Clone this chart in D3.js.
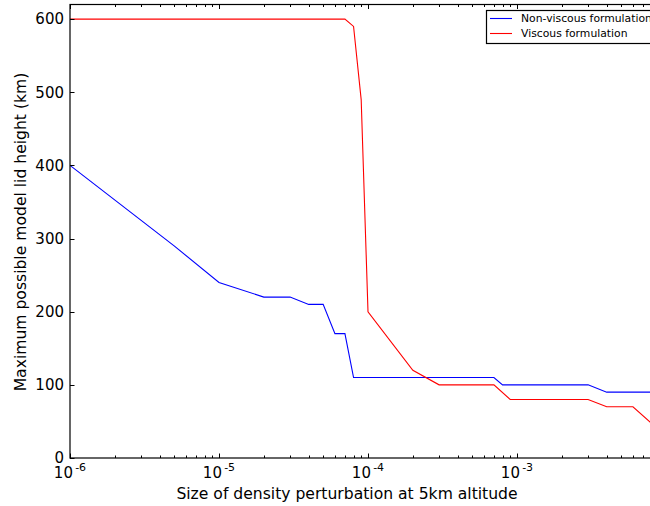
<!DOCTYPE html>
<html>
<head>
<meta charset="utf-8">
<script src="https://cdn.jsdelivr.net/npm/d3@7"></script>
<style>
  html, body { margin: 0; padding: 0; background: #fff; }
  svg { display: block; font-family: "DejaVu Sans", sans-serif; }
</style>
</head>
<body>
<svg id="chart" width="650" height="506"></svg>
<script>
// Perturbation sizes (x) and the resulting maximum lid heights (km)
const nonViscousX = [1e-6, 5e-6, 1e-5, 2e-5, 3e-5, 4e-5, 5e-5, 6e-5, 7e-5, 8e-5, 7e-4, 8e-4, 3e-3, 4e-3, 1e-2];
const nonViscousY = [400, 290, 240, 220, 220, 210, 210, 170, 170, 110, 110, 100, 100, 90, 90];
const viscousX = [1e-6, 7e-5, 8e-5, 9e-5, 1e-4, 2e-4, 3e-4, 7e-4, 9e-4, 3e-3, 4e-3, 6e-3, 1e-2];
const viscousY = [600, 600, 590, 490, 200, 120, 100, 100, 80, 80, 70, 70, 30];
const yTicks = [0, 100, 200, 300, 400, 500, 600];
const xMajorExponents = [-6, -5, -4, -3];
const seriesNames = ["Non-viscous formulation", "Viscous formulation"];
const seriesColors = ["#0000ff", "#ff0000"];

const svg = d3.select("#chart");
const plotLeft = 70, plotRight = 666, plotTop = 4.5, plotBottom = 458;

const x = d3.scaleLog().domain([1e-6, 1e-2]).range([plotLeft, plotRight]);
const y = d3.scaleLinear().domain([0, 620]).range([plotBottom, plotTop]);

svg.append("defs").append("clipPath").attr("id", "plot-clip")
  .append("rect").attr("x", plotLeft).attr("y", plotTop)
  .attr("width", plotRight - plotLeft).attr("height", plotBottom - plotTop);

// Data lines
const series = [
  nonViscousX.map((v, i) => [v, nonViscousY[i]]),
  viscousX.map((v, i) => [v, viscousY[i]])
];
const line = d3.line().x(d => x(d[0])).y(d => y(d[1]));
const plot = svg.append("g").attr("clip-path", "url(#plot-clip)");
series.forEach((s, i) => {
  plot.append("path").datum(s).attr("d", line)
    .attr("fill", "none").attr("stroke", seriesColors[i])
    .attr("stroke-width", 1.1).attr("stroke-linejoin", "miter");
});

// Ticks (inward, matplotlib style)
const tickG = svg.append("g").attr("stroke", "#000").attr("stroke-width", 1);
x.ticks().forEach(v => {
  const isMajor = Math.abs(Math.log10(v) - Math.round(Math.log10(v))) < 1e-9;
  const len = isMajor ? 4.5 : 2.5;
  const px = Math.round(x(v)) + 0.5;
  tickG.append("line").attr("x1", px).attr("x2", px).attr("y1", plotBottom).attr("y2", plotBottom - len);
  tickG.append("line").attr("x1", px).attr("x2", px).attr("y1", plotTop).attr("y2", plotTop + len);
});
yTicks.forEach(v => {
  const py = Math.round(y(v)) + 0.5;
  tickG.append("line").attr("x1", plotLeft).attr("x2", plotLeft + 4.5).attr("y1", py).attr("y2", py);
  tickG.append("line").attr("x1", plotRight).attr("x2", plotRight - 4.5).attr("y1", py).attr("y2", py);
});

// Spines
svg.append("rect").attr("x", plotLeft).attr("y", plotTop)
  .attr("width", plotRight - plotLeft).attr("height", plotBottom - plotTop)
  .attr("fill", "none").attr("stroke", "#000").attr("stroke-width", 1.2);

// Y tick labels
svg.append("g").selectAll("text").data(yTicks).join("text")
  .attr("x", plotLeft - 6).attr("y", d => y(d)).attr("dy", "0.35em")
  .attr("text-anchor", "end").attr("font-size", 15).attr("fill", "#000")
  .text(d => d);

// X tick labels: 10 with superscript exponent
const xl = svg.append("g");
xMajorExponents.forEach(e => {
  const t = xl.append("text").attr("x", x(Math.pow(10, e))).attr("y", 478)
    .attr("text-anchor", "middle").attr("font-size", 15).attr("fill", "#000");
  t.append("tspan").text("10");
  t.append("tspan").attr("dy", -7).attr("font-size", 11).text("\u2009" + (e < 0 ? "-" : "") + Math.abs(e));
});

// Axis titles
svg.append("text").attr("x", 347).attr("y", 499).attr("text-anchor", "middle")
  .attr("font-size", 15.6).attr("fill", "#000")
  .text("Size of density perturbation at 5km altitude");
svg.append("text").attr("transform", "translate(26,232) rotate(-90)")
  .attr("text-anchor", "middle").attr("font-size", 15.6).attr("fill", "#000")
  .text("Maximum possible model lid height (km)");

// Legend
const lg = svg.append("g");
lg.append("rect").attr("x", 486.5).attr("y", 10.5).attr("width", 200).attr("height", 33)
  .attr("fill", "#fff").attr("stroke", "#000").attr("stroke-width", 1.2);
seriesNames.forEach((name, i) => {
  const ly = 18.5 + i * 15;
  lg.append("line").attr("x1", 490).attr("x2", 512).attr("y1", ly).attr("y2", ly)
    .attr("stroke", seriesColors[i]).attr("stroke-width", 1.1);
  lg.append("text").attr("x", 521).attr("y", ly).attr("dy", "0.35em")
    .attr("font-size", 10.8).attr("fill", "#000").text(name);
});
</script>
</body>
</html>
